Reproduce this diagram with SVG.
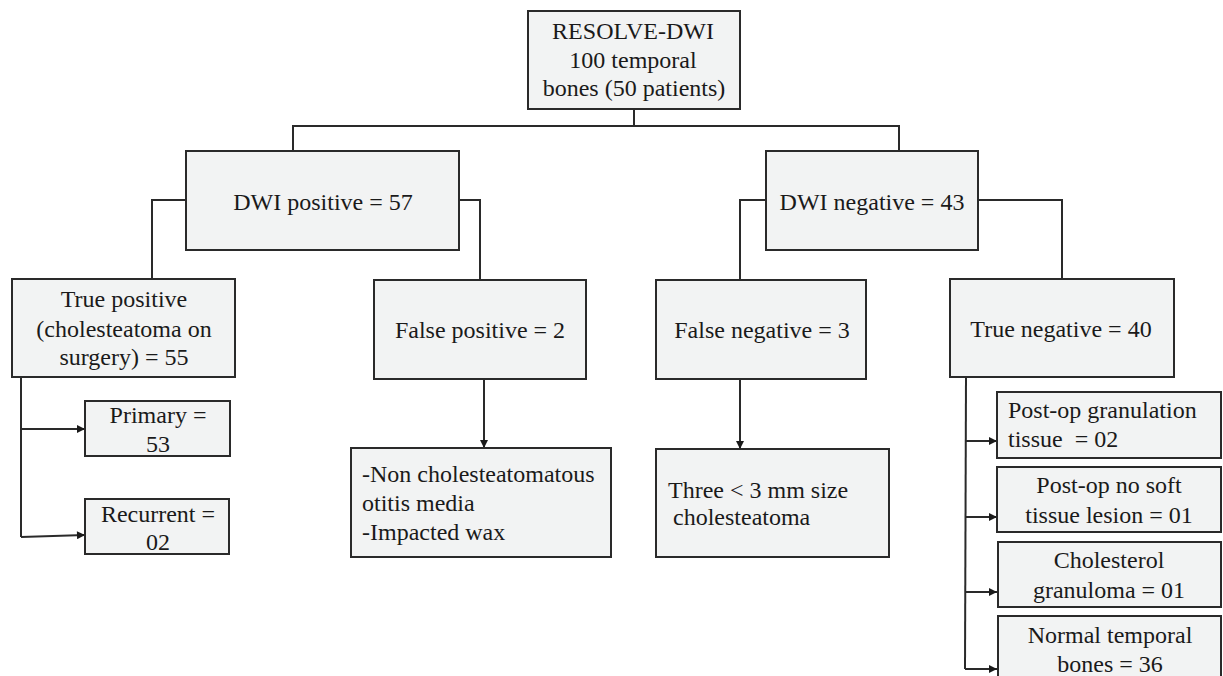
<svg xmlns="http://www.w3.org/2000/svg" width="1223" height="676" viewBox="0 0 1223 676">
<style>
.box{fill:#f2f3f3;stroke:#2a2a2a;stroke-width:2}
.lbl{font-family:'Liberation Serif',serif;font-size:24px;fill:#1a1a1a}
.mid{text-anchor:middle}
.ln{fill:none;stroke:#2a2a2a;stroke-width:2}
</style>
<defs>
<marker id="ah" viewBox="0 0 10 10" refX="10" refY="5" markerWidth="9" markerHeight="8" markerUnits="userSpaceOnUse" orient="auto">
<path d="M0,0 L10,5 L0,10 z" fill="#1a1a1a"/>
</marker>
</defs>
<g id="connectors">
<path class="ln" d="M634,109 V126 M293,151 V126 H899 V151"/>
<path class="ln" d="M186,200 H152 V279 M459,200 H480 V280"/>
<path class="ln" d="M766,200 H740 V283 M978,200 H1062 V279"/>
<path class="ln" d="M21,377 V537"/>
<path class="ln" d="M21,429 H85" marker-end="url(#ah)"/>
<path class="ln" d="M21,537 L85,535" marker-end="url(#ah)"/>
<path class="ln" d="M484,379 V448" marker-end="url(#ah)"/>
<path class="ln" d="M740,379 V449" marker-end="url(#ah)"/>
<path class="ln" d="M966,377 L965,669"/>
<path class="ln" d="M966,441 H997" marker-end="url(#ah)"/>
<path class="ln" d="M966,517 H997" marker-end="url(#ah)"/>
<path class="ln" d="M965,592 H997" marker-end="url(#ah)"/>
<path class="ln" d="M965,669 H997" marker-end="url(#ah)"/>
</g>
<g id="root" font-family="'Liberation Serif', serif" font-size="24">
<rect class="box" x="528" y="11" width="212" height="98"/>
<text class="lbl mid" x="633" y="39">RESOLVE-DWI</text>
<text class="lbl mid" x="633" y="68">100 temporal</text>
<text class="lbl mid" x="634" y="96">bones (50 patients)</text>
</g>
<g id="dwi-pos" font-family="'Liberation Serif', serif" font-size="24">
<rect class="box" x="186" y="151" width="273" height="99"/>
<text class="lbl mid" x="323" y="210">DWI positive = 57</text>
</g>
<g id="dwi-neg" font-family="'Liberation Serif', serif" font-size="24">
<rect class="box" x="766" y="151" width="212" height="99"/>
<text class="lbl mid" x="872" y="210">DWI negative = 43</text>
</g>
<g id="true-pos" font-family="'Liberation Serif', serif" font-size="24">
<rect class="box" x="12" y="279" width="223" height="98"/>
<text class="lbl mid" x="124" y="307">True positive</text>
<text class="lbl mid" x="124" y="337">(cholesteatoma on</text>
<text class="lbl mid" x="124" y="365">surgery) = 55</text>
</g>
<g id="false-pos" font-family="'Liberation Serif', serif" font-size="24">
<rect class="box" x="374" y="280" width="212" height="99"/>
<text class="lbl mid" x="480" y="338">False positive = 2</text>
</g>
<g id="false-neg" font-family="'Liberation Serif', serif" font-size="24">
<rect class="box" x="656" y="280" width="210" height="99"/>
<text class="lbl mid" x="762" y="338">False negative = 3</text>
</g>
<g id="true-neg" font-family="'Liberation Serif', serif" font-size="24">
<rect class="box" x="950" y="279" width="224" height="98"/>
<text class="lbl mid" x="1061" y="337">True negative = 40</text>
</g>
<g id="primary" font-family="'Liberation Serif', serif" font-size="24">
<rect class="box" x="85" y="401" width="145" height="55"/>
<text class="lbl mid" x="158" y="423">Primary =</text>
<text class="lbl mid" x="158" y="452">53</text>
</g>
<g id="recurrent" font-family="'Liberation Serif', serif" font-size="24">
<rect class="box" x="85" y="499" width="144" height="55"/>
<text class="lbl mid" x="158" y="522">Recurrent =</text>
<text class="lbl mid" x="158" y="550">02</text>
</g>
<g id="fp-detail" font-family="'Liberation Serif', serif" font-size="24">
<rect class="box" x="351" y="448" width="260" height="109"/>
<text class="lbl" x="362" y="482">-Non cholesteatomatous</text>
<text class="lbl" x="362" y="511">otitis media</text>
<text class="lbl" x="362" y="540">-Impacted wax</text>
</g>
<g id="fn-detail" font-family="'Liberation Serif', serif" font-size="24">
<rect class="box" x="656" y="449" width="233" height="108"/>
<text class="lbl" x="668" y="498">Three &lt; 3 mm size</text>
<text class="lbl" x="673" y="525">cholesteatoma</text>
</g>
<g id="granulation" font-family="'Liberation Serif', serif" font-size="24">
<rect class="box" x="997" y="392" width="224" height="66"/>
<text class="lbl" x="1008" y="418">Post-op granulation</text>
<text class="lbl" x="1008" y="447" xml:space="preserve">tissue  = 02</text>
</g>
<g id="no-soft" font-family="'Liberation Serif', serif" font-size="24">
<rect class="box" x="997" y="467" width="224" height="65"/>
<text class="lbl mid" x="1109" y="493">Post-op no soft</text>
<text class="lbl mid" x="1109" y="523">tissue lesion = 01</text>
</g>
<g id="cholesterol" font-family="'Liberation Serif', serif" font-size="24">
<rect class="box" x="998" y="542" width="223" height="65"/>
<text class="lbl mid" x="1109" y="568">Cholesterol</text>
<text class="lbl mid" x="1109" y="598">granuloma = 01</text>
</g>
<g id="normal" font-family="'Liberation Serif', serif" font-size="24">
<rect class="box" x="998" y="616" width="223" height="70"/>
<text class="lbl mid" x="1110" y="643">Normal temporal</text>
<text class="lbl mid" x="1110" y="672">bones = 36</text>
</g>
</svg>
